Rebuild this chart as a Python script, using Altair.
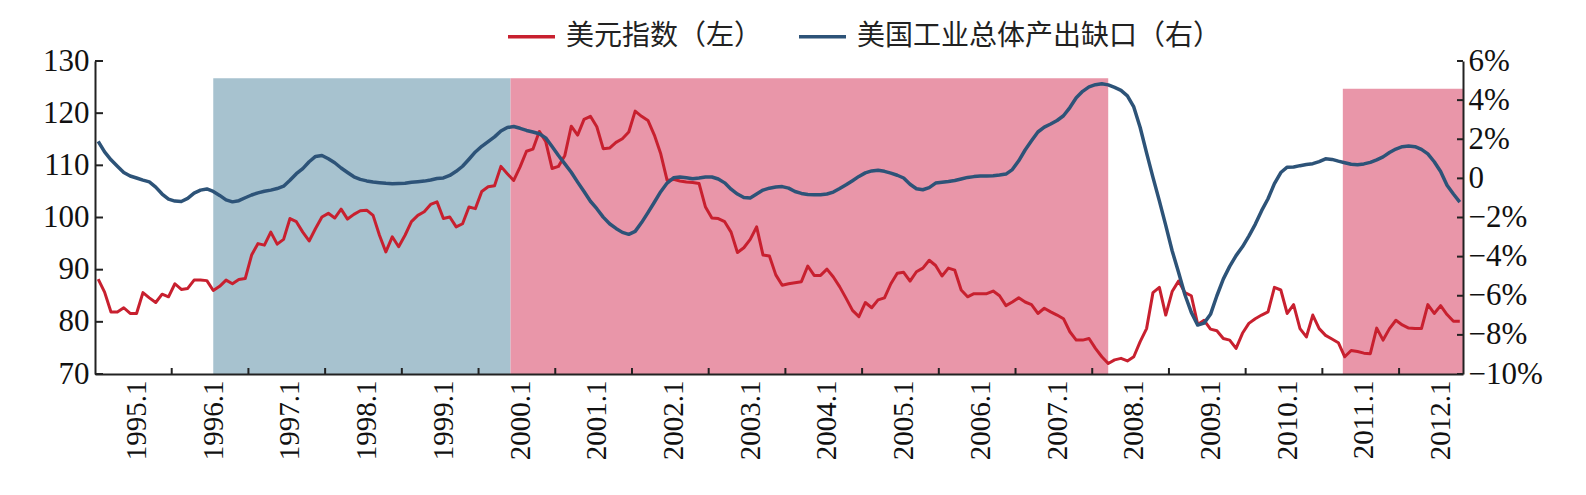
import json
import altair as alt
import pandas as pd

# ---------------- data ----------------
FIRST_YEAR, FIRST_MONTH = 1994, 7          # first monthly category

USD_INDEX = [
    88.2, 85.7, 81.9, 81.9, 82.7, 81.6, 81.6, 85.6, 84.6, 83.7,
    85.3, 84.8, 87.3, 86.2, 86.4, 88.0, 88.0, 87.9, 86.0, 86.8,
    88.0, 87.3, 88.1, 88.3, 92.8, 95.0, 94.7, 97.2, 94.9, 95.8,
    99.8, 99.2, 97.2, 95.5, 97.9, 100.1, 100.8, 99.9, 101.6, 99.7,
    100.6, 101.3, 101.4, 100.4, 96.6, 93.4, 96.3, 94.4, 96.6, 99.2,
    100.4, 101.1, 102.5, 103.0, 99.8, 100.1, 98.2, 98.8, 102.0, 101.7,
    105.0, 105.9, 106.1, 109.8, 108.4, 107.1, 109.7, 112.7, 113.1, 116.5,
    114.6, 109.4, 109.8, 111.9, 117.5, 115.8, 118.8, 119.4, 117.4, 113.2,
    113.3, 114.4, 115.1, 116.4, 120.4, 119.4, 118.6, 115.8, 112.2, 107.1,
    107.3, 107.0, 106.8, 106.7, 106.5, 102.0, 99.9, 99.8, 99.2, 97.2,
    93.3, 94.2, 95.8, 98.2, 92.8, 92.6, 89.0, 87.0, 87.3, 87.5,
    87.7, 90.7, 88.9, 88.9, 90.1, 88.6, 86.7, 84.5, 82.2, 81.0,
    83.7, 82.7, 84.2, 84.6, 87.3, 89.3, 89.5, 87.8, 89.6, 90.3,
    91.8, 90.8, 88.8, 90.3, 89.9, 86.1, 84.8, 85.4, 85.4, 85.4,
    85.9, 85.0, 83.1, 83.8, 84.6, 83.8, 83.3, 81.6, 82.6, 81.9,
    81.3, 80.6, 78.1, 76.5, 76.5, 76.8, 74.9, 73.3, 72.0, 72.7,
    73.0, 72.5, 73.3, 76.2, 78.7, 85.6, 86.6, 81.3, 85.8, 87.8,
    85.6, 85.0, 79.5, 80.3, 78.6, 78.3, 76.8, 76.5, 74.9, 77.8,
    79.7, 80.6, 81.3, 81.9, 86.6, 86.1, 81.6, 83.3, 78.7, 77.1,
    81.3, 78.7, 77.4, 76.7, 76.0, 73.3, 74.5, 74.3, 74.0, 73.9,
    78.8, 76.5, 78.7, 80.3, 79.4, 78.8, 78.7, 78.7, 83.3, 81.6,
    83.1, 81.4, 80.1, 80.1,
]

OUTPUT_GAP = [
    1.89, 1.35, 0.95, 0.62, 0.30, 0.12, 0.02, -0.09, -0.18, -0.45,
    -0.80, -1.06, -1.16, -1.18, -1.02, -0.75, -0.60, -0.54, -0.67, -0.87,
    -1.10, -1.20, -1.14, -0.99, -0.85, -0.74, -0.66, -0.60, -0.52, -0.40,
    -0.10, 0.24, 0.50, 0.85, 1.12, 1.17, 1.00, 0.80, 0.53, 0.30,
    0.08, -0.05, -0.13, -0.19, -0.22, -0.25, -0.27, -0.26, -0.25, -0.20,
    -0.17, -0.14, -0.08, -0.01, 0.02, 0.15, 0.36, 0.62, 0.98, 1.35,
    1.64, 1.88, 2.12, 2.42, 2.60, 2.65, 2.56, 2.45, 2.37, 2.28,
    2.07, 1.63, 1.17, 0.74, 0.31, -0.19, -0.67, -1.17, -1.55, -1.98,
    -2.32, -2.56, -2.76, -2.86, -2.71, -2.26, -1.75, -1.22, -0.68, -0.24,
    0.03, 0.07, 0.03, -0.02, 0.02, 0.07, 0.07, -0.03, -0.23, -0.55,
    -0.80, -0.98, -1.00, -0.80, -0.60, -0.50, -0.44, -0.42, -0.50, -0.67,
    -0.77, -0.82, -0.84, -0.84, -0.80, -0.70, -0.52, -0.33, -0.12, 0.10,
    0.28, 0.38, 0.41, 0.36, 0.27, 0.16, 0.02, -0.30, -0.53, -0.58,
    -0.47, -0.24, -0.20, -0.16, -0.11, -0.03, 0.05, 0.09, 0.12, 0.12,
    0.14, 0.17, 0.22, 0.45, 0.90, 1.45, 1.92, 2.37, 2.62, 2.78,
    2.96, 3.20, 3.62, 4.12, 4.45, 4.68, 4.79, 4.84, 4.78, 4.65,
    4.50, 4.22, 3.65, 2.60, 1.30, 0.05, -1.15, -2.40, -3.70, -4.80,
    -5.95, -6.85, -7.50, -7.40, -6.95, -6.00, -5.15, -4.50, -3.95, -3.50,
    -2.95, -2.35, -1.65, -1.04, -0.27, 0.30, 0.57, 0.58, 0.65, 0.71,
    0.75, 0.86, 1.00, 0.97, 0.88, 0.80, 0.72, 0.70, 0.74, 0.82,
    0.95, 1.10, 1.32, 1.50, 1.62, 1.65, 1.62, 1.48, 1.25, 0.85,
    0.35, -0.35, -0.80, -1.21,
]

SERIES = ["美元指数（左）", "美国工业总体产出缺口（右）"]

X_LABELS = ["1995.1", "1996.1", "1997.1", "1998.1", "1999.1", "2000.1",
            "2001.1", "2002.1", "2003.1", "2004.1", "2005.1", "2006.1",
            "2007.1", "2008.1", "2009.1", "2010.1", "2011.1", "2012.1"]
LEFT_TICKS = [70, 80, 90, 100, 110, 120, 130]
RIGHT_TICKS = [-10, -8, -6, -4, -2, 0, 2, 4, 6]
RIGHT_LABELS = ["−10%", "−8%", "−6%", "−4%", "−2%", "0", "2%", "4%", "6%"]

# shaded periods, in monthly-category units along the x axis
BAND_KIND = ["blue", "pink", "pink"]
BAND_START = [18.5, 65.0, 195.2]
BAND_END = [65.0, 158.5, 214.0]
BAND_TOP = [126.7, 126.7, 124.7]

# ---------------- styling ----------------
RED, BLUE = "#C8202F", "#2D5378"
BAND_BLUE, BAND_PINK = "#A7C2CF", "#E996A9"
AXIS_C = "#222222"
W, H = 1368, 313
NUM_FONT = "Liberation Serif"
CJK_FONT = "Noto Sans CJK SC"

N = len(USD_INDEX)
months = [((FIRST_MONTH - 1 + i) % 12) + 1 for i in range(N)]
x_pos = [i + 0.5 for i in range(N)]
label_pos = [i + 0.5 for i in range(N) if months[i] == 1]
tick_pos = [i for i in range(1, N) if months[i] == 7]

red_df = pd.DataFrame({"x": x_pos, "v": USD_INDEX, "series": SERIES[0]})
blue_df = pd.DataFrame({"x": x_pos, "v": OUTPUT_GAP, "series": SERIES[1]})
band_df = pd.DataFrame({"kind": BAND_KIND, "start": BAND_START, "end": BAND_END,
                        "top": BAND_TOP, "bottom": [LEFT_TICKS[0]] * len(BAND_KIND)})

xscale = alt.Scale(domain=[0, N], nice=False, zero=False)
yl = alt.Scale(domain=[LEFT_TICKS[0], LEFT_TICKS[-1]], nice=False, zero=False)
yr = alt.Scale(domain=[RIGHT_TICKS[0], RIGHT_TICKS[-1]], nice=False, zero=False)
cscale = alt.Scale(domain=SERIES, range=[RED, BLUE])

legend = alt.Legend(orient="none", legendX=411, legendY=-50, direction="horizontal",
                    title=None, symbolType="stroke", symbolSize=2209,
                    symbolStrokeWidth=3.5, labelFont=CJK_FONT, labelFontSize=28,
                    labelColor="#222222", labelOffset=9, columnPadding=29,
                    padding=0, labelLimit=0)

x_label_expr = json.dumps(X_LABELS, ensure_ascii=False) + \
    f"[round((datum.value - {label_pos[0]}) / 12)]"
x_axis = alt.Axis(values=label_pos, labelExpr=x_label_expr, ticks=False, grid=False,
                  title=None, labelAngle=270, labelFont=NUM_FONT, labelFontSize=29,
                  labelColor="#111111", labelPadding=6, domainColor=AXIS_C,
                  domainWidth=2, zindex=2)
left_axis = alt.Axis(values=LEFT_TICKS, ticks=False, grid=False, title=None,
                     labelFont=NUM_FONT, labelFontSize=31, labelColor="#111111",
                     labelPadding=6, domainColor=AXIS_C, domainWidth=2, zindex=2)
r_label_expr = json.dumps(RIGHT_LABELS, ensure_ascii=False) + \
    f"[round((datum.value - ({RIGHT_TICKS[0]})) / 2)]"
right_axis = alt.Axis(orient="right", values=RIGHT_TICKS, labelExpr=r_label_expr,
                      ticks=False, grid=False, title=None, labelFont=NUM_FONT,
                      labelFontSize=31, labelColor="#111111", labelPadding=5,
                      domainColor=AXIS_C, domainWidth=2, zindex=2)

bands = alt.Chart(band_df).mark_rect().encode(
    x=alt.X("start:Q", scale=xscale, axis=x_axis),
    x2="end:Q",
    y=alt.Y("bottom:Q", scale=yl, axis=left_axis),
    y2="top:Q",
    fill=alt.Fill("kind:N", scale=alt.Scale(domain=["blue", "pink"],
                                            range=[BAND_BLUE, BAND_PINK]), legend=None),
)

red = alt.Chart(red_df).mark_line(strokeWidth=3, strokeJoin="round").encode(
    x=alt.X("x:Q", scale=xscale, axis=x_axis),
    y=alt.Y("v:Q", scale=yl, axis=left_axis),
    color=alt.Color("series:N", scale=cscale, legend=legend),
)

left_ticks = alt.Chart(pd.DataFrame({"v": LEFT_TICKS})).mark_rule(
    color=AXIS_C, strokeWidth=2).encode(
    y=alt.Y("v:Q", scale=yl, axis=left_axis), x=alt.value(0), x2=alt.value(8))

x_ticks = alt.Chart(pd.DataFrame({"t": tick_pos})).mark_rule(
    color=AXIS_C, strokeWidth=2).encode(
    x=alt.X("t:Q", scale=xscale, axis=x_axis), y=alt.value(H), y2=alt.value(H - 6))

left_group = alt.layer(bands, red, left_ticks, x_ticks)

blue = alt.Chart(blue_df).mark_line(strokeWidth=3.5, strokeJoin="round").encode(
    x=alt.X("x:Q", scale=xscale, axis=x_axis),
    y=alt.Y("v:Q", scale=yr, axis=right_axis),
    color=alt.Color("series:N", scale=cscale, legend=legend),
)

right_ticks = alt.Chart(pd.DataFrame({"g": RIGHT_TICKS})).mark_rule(
    color=AXIS_C, strokeWidth=2).encode(
    y=alt.Y("g:Q", scale=yr, axis=right_axis), x=alt.value(W - 6), x2=alt.value(W))

right_group = alt.layer(blue, right_ticks)

chart = alt.layer(left_group, right_group).resolve_scale(y="independent").properties(
    width=W, height=H,
    autosize=alt.AutoSizeParams(type="none"),
    padding={"left": 95, "top": 61, "right": 1586 - 95 - W, "bottom": 495 - 61 - H},
    background="white",
).configure_view(strokeWidth=0)

chart.save("out.html", embed_options={"renderer": "svg", "actions": False})
